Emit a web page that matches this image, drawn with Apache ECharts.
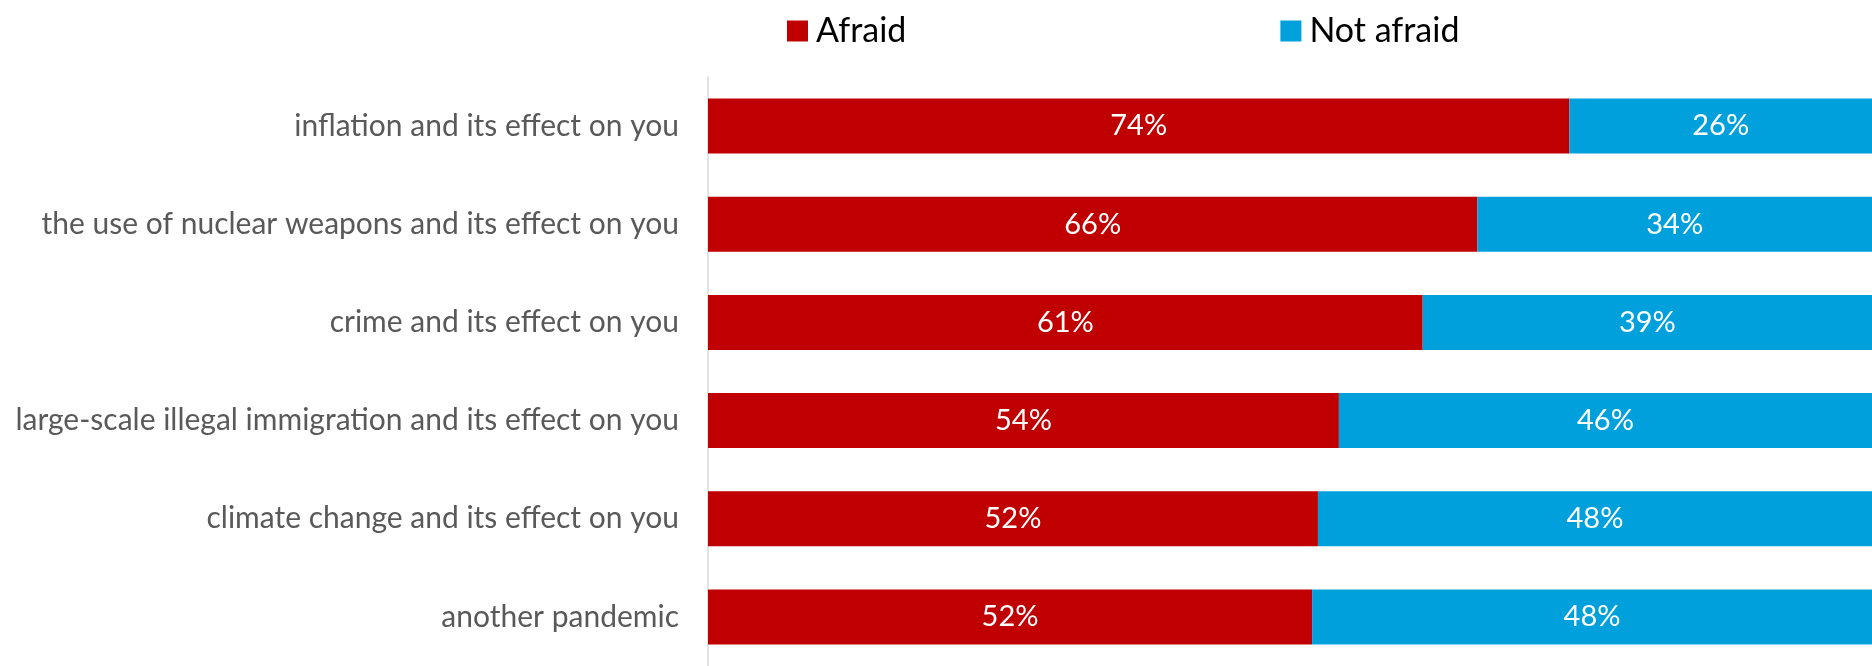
<!DOCTYPE html>
<html>
<head>
<meta charset="utf-8">
<script src="https://cdn.jsdelivr.net/npm/echarts@6/dist/echarts.min.js"></script>
<style>
html,body{margin:0;padding:0;background:#fff;}
#chart{width:1872px;height:666px;}
</style>
</head>
<body>
<div id="chart"></div>
<script>
const categories = [
  "inflation and its effect on you",
  "the use of nuclear weapons and its effect on you",
  "crime and its effect on you",
  "large-scale illegal immigration and its effect on you",
  "climate change and its effect on you",
  "another pandemic"
];
const afraid = [74.0, 66.1, 61.4, 54.2, 52.4, 51.9];
const notAfraid = [26.0, 33.9, 38.6, 45.8, 47.6, 48.1];
const seriesNames = ["Afraid", "Not afraid"];
const colors = ["#C00000", "#00A0DC"];

const chart = echarts.init(document.getElementById('chart'), null, {renderer: 'canvas'});
const labelOpt = {
  show: true,
  position: 'inside',
  color: '#ffffff',
  fontFamily: 'Lato',
  fontSize: 29,
  formatter: p => Math.round(p.value) + '%'
};
chart.setOption({
  animation: false,
  legend: {
    data: seriesNames,
    left: 782,
    top: 9,
    itemWidth: 21,
    itemHeight: 21,
    itemGap: 374,
    icon: 'rect',
    textStyle: {fontFamily: 'Lato', fontSize: 34, lineHeight: 34, color: '#000000', padding: [0,0,0,3]}
  },
  grid: {left: 708, right: 0, top: 77, bottom: -5, containLabel: false},
  xAxis: {type: 'value', min: 0, max: 100, show: false},
  yAxis: {
    type: 'category',
    data: categories,
    inverse: true,
    axisTick: {show: false},
    axisLine: {show: true, lineStyle: {color: '#e3e3e3', width: 2}},
    axisLabel: {fontFamily: 'Lato', fontSize: 30, color: '#595959', margin: 29}
  },
  series: [
    {name: seriesNames[0], type: 'bar', stack: 's', data: afraid, barWidth: 55,
     itemStyle: {color: colors[0]}, label: labelOpt},
    {name: seriesNames[1], type: 'bar', stack: 's', data: notAfraid, barWidth: 55,
     itemStyle: {color: colors[1]}, label: labelOpt}
  ]
});
</script>
</body>
</html>
